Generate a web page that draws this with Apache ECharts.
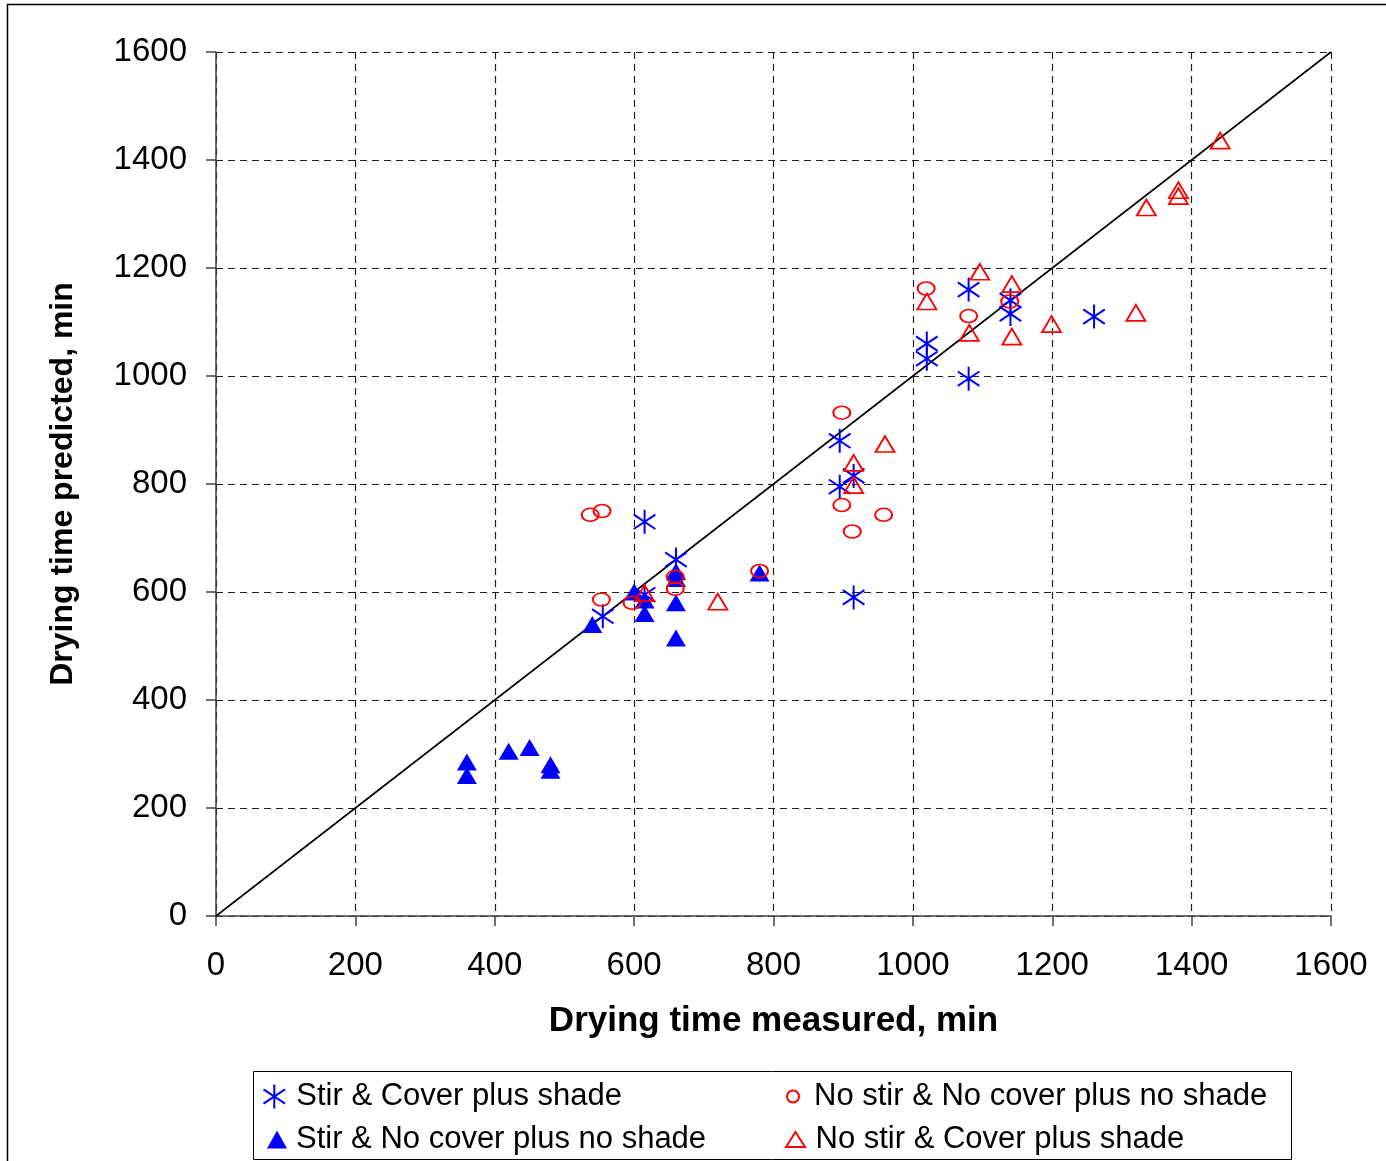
<!DOCTYPE html>
<html>
<head>
<meta charset="utf-8" />
<title>Drying time</title>
<script src="https://cdn.jsdelivr.net/npm/echarts@6/dist/echarts.min.js"></script>
<style>
  html, body { margin: 0; padding: 0; background: #fff; }
  #main { width: 1386px; height: 1161px; }
</style>
</head>
<body>
<div id="main"></div>
<script>
// [measured, predicted] in minutes
var stirCover = [[555, 555], [615, 595], [615, 730], [660, 660], [895, 880], [895, 795],
  [915, 815], [915, 590], [1020, 1060], [1020, 1032], [1080, 1160], [1080, 995],
  [1140, 1140], [1140, 1115], [1260, 1110]];
var stirNoCover = [[360, 285], [360, 260], [420, 305], [450, 312], [480, 280], [480, 270],
  [540, 540], [600, 600], [615, 560], [615, 585], [660, 638], [660, 625], [660, 580],
  [660, 515], [780, 635]];
var noStirNoCover = [[537, 743], [554, 750], [553, 586], [597, 580], [659, 628], [659, 606],
  [780, 639], [898, 932], [898, 761], [958, 743], [913, 712], [1019, 1162], [1080, 1111],
  [1139, 1138]];
var noStirCover = [[615, 598], [720, 582], [960, 874], [915, 839], [915, 798], [1096, 1193],
  [1020, 1138], [1081, 1080], [1142, 1170], [1142, 1073], [1199, 1096], [1320, 1117],
  [1441, 1436], [1335, 1312], [1381, 1344], [1381, 1333]];
var oneToOne = [[0, 0], [1600, 1600]];
var axisTicks = [0, 200, 400, 600, 800, 1000, 1200, 1400, 1600];

var font = 'Liberation Sans, Arial, sans-serif';
var asterisk = 'path://M10,0L10,20M1,4L19,16M1,16L19,4';

var myChart = echarts.init(document.getElementById('main'));

function axis(name, gap, rotate, nameSize) {
  return {
    type: 'value',
    min: axisTicks[0],
    max: axisTicks[axisTicks.length - 1],
    interval: axisTicks[1] - axisTicks[0],
    name: name,
    nameLocation: 'middle',
    nameGap: gap,
    nameRotate: rotate,
    nameTextStyle: { color: '#000', fontFamily: font, fontSize: nameSize, fontWeight: 'bold' },
    axisLine: { show: true, onZero: false, lineStyle: { color: '#404040', width: 1.5 } },
    axisTick: { show: true, inside: false, length: 10, lineStyle: { color: '#404040', width: 1.5 } },
    axisLabel: {
      color: '#000', fontFamily: font, fontSize: 33, margin: 20,
      formatter: function (v) { return String(v); }
    },
    splitLine: { show: true, lineStyle: { color: '#202020', type: [7, 5], width: 1.2 } }
  };
}

var xAxis = axis('Drying time measured, min', 88, 0, 35);
xAxis.axisLabel.margin = 33;
var yAxis = axis('Drying time predicted, min', 137, 90, 32);
yAxis.axisLabel.margin = 29;
yAxis.axisLabel.padding = [5, 0, 0, 0];

// one legend per entry so the 2x2 layout matches the reference box
function legendAt(left, cy, w, h, padLeft, name) {
  return {
    left: left, top: cy - 18, orient: 'vertical', itemWidth: w, itemHeight: h, itemGap: 10,
    textStyle: {
      color: '#000', fontFamily: font, fontSize: 31, lineHeight: 30,
      padding: [0, 0, 0, padLeft]
    },
    data: [name]
  };
}

var option = {
  animation: false,
  backgroundColor: '#fff',
  textStyle: { fontFamily: font },
  grid: { left: 216, right: 55, top: 52, bottom: 245 },
  xAxis: xAxis,
  yAxis: yAxis,
  graphic: [
    { type: 'rect', shape: { x: 7.5, y: 4.5, width: 1500, height: 1300 },
      style: { fill: 'none', stroke: '#000', lineWidth: 1.5 }, z: -1 },
    { type: 'rect', shape: { x: 253.5, y: 1071.5, width: 1038, height: 88 },
      style: { fill: '#fff', stroke: '#000', lineWidth: 1 }, z: 0 }
  ],
  legend: [
    legendAt(256, 1094, 26, 24, 4, 'Stir & Cover plus shade'),
    legendAt(262, 1137, 20, 18, 4, 'Stir & No cover plus no shade'),
    legendAt(779.5, 1094, 15, 12, 8.5, 'No stir & No cover plus no shade'),
    legendAt(778.5, 1137, 19, 15, 5.5, 'No stir & Cover plus shade')
  ],
  series: [
    {
      name: '1:1', type: 'line', data: oneToOne, symbol: 'none', silent: true,
      lineStyle: { color: '#000', width: 1.6 }, z: 1
    },
    {
      name: 'Stir & Cover plus shade', type: 'scatter', data: stirCover,
      symbol: asterisk, symbolSize: 24, symbolKeepAspect: true,
      itemStyle: { color: 'none', borderColor: '#0000ff', borderWidth: 2, opacity: 1 }, z: 3
    },
    {
      name: 'Stir & No cover plus no shade', type: 'scatter', data: stirNoCover,
      symbol: 'triangle', symbolSize: [20, 17],
      itemStyle: { color: '#0000ff', opacity: 1 }, z: 2
    },
    {
      name: 'No stir & No cover plus no shade', type: 'scatter', data: noStirNoCover,
      symbol: 'circle', symbolSize: [17, 13],
      itemStyle: { color: 'none', borderColor: '#ff0000', borderWidth: 1.8, opacity: 1 }, z: 4
    },
    {
      name: 'No stir & Cover plus shade', type: 'scatter', data: noStirCover,
      symbol: 'triangle', symbolSize: [19, 16],
      itemStyle: { color: 'none', borderColor: '#ff0000', borderWidth: 1.8, opacity: 1 }, z: 4
    }
  ]
};

myChart.setOption(option);
</script>
</body>
</html>
